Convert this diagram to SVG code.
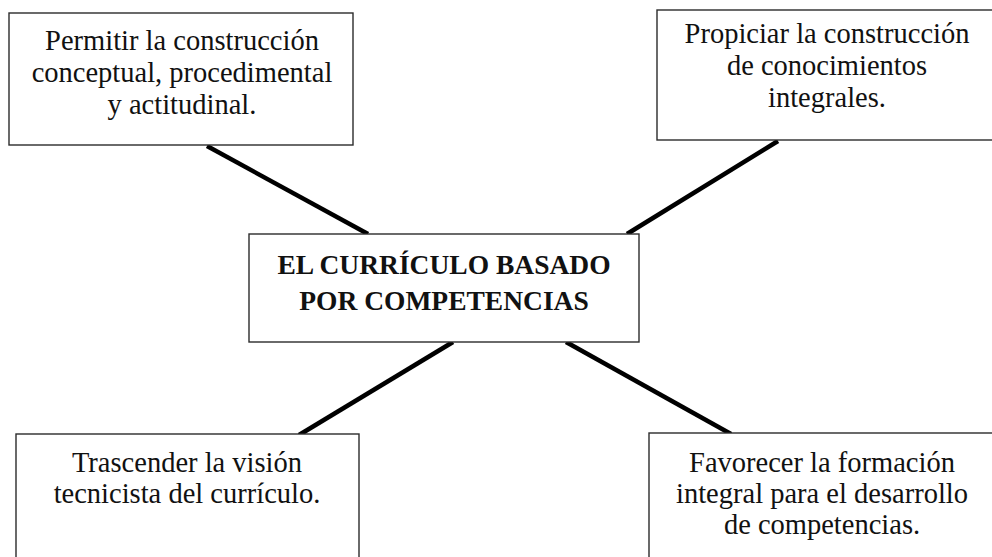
<svg xmlns="http://www.w3.org/2000/svg" width="992" height="557" viewBox="0 0 992 557">
<style>
.box{fill:#fff;stroke:#2b2b2b;stroke-width:1.4}
text{font-family:'Liberation Serif','Times New Roman','DejaVu Serif',serif;font-size:28.5px;fill:#111;text-anchor:middle}
.b{font-weight:bold;font-size:27.5px}
.c{stroke:#000;stroke-width:4.5;stroke-linecap:butt;fill:none}
</style>
<rect width="992" height="557" fill="#fff"/>
<g id="connectors">
<line class="c" x1="207" y1="146" x2="368" y2="234"/>
<line class="c" x1="778" y1="141" x2="627" y2="234"/>
<line class="c" x1="453" y1="342" x2="299" y2="435"/>
<line class="c" x1="566" y1="342" x2="731" y2="434"/>
</g>
<g id="n-center">
<rect class="box" x="249" y="234" width="390" height="108"/>
<text class="b" x="444" y="274">EL CURRÍCULO BASADO</text>
<text class="b" x="444" y="310">POR COMPETENCIAS</text>
</g>
<g id="n-topleft">
<rect class="box" x="9" y="13" width="344" height="132"/>
<text x="182" y="50">Permitir la construcción</text>
<text x="182" y="82">conceptual, procedimental</text>
<text x="182" y="114">y actitudinal.</text>
</g>
<g id="n-topright">
<rect class="box" x="657" y="10" width="340" height="130"/>
<text x="827" y="43">Propiciar la construcción</text>
<text x="827" y="75">de conocimientos</text>
<text x="827" y="107">integrales.</text>
</g>
<g id="n-bottomleft">
<rect class="box" x="16" y="434" width="343" height="130"/>
<text x="187" y="472">Trascender la visión</text>
<text x="187" y="503">tecnicista del currículo.</text>
</g>
<g id="n-bottomright">
<rect class="box" x="649" y="433" width="348" height="130"/>
<text x="822" y="472">Favorecer la formación</text>
<text x="822" y="503">integral para el desarrollo</text>
<text x="822" y="534">de competencias.</text>
</g>
</svg>
